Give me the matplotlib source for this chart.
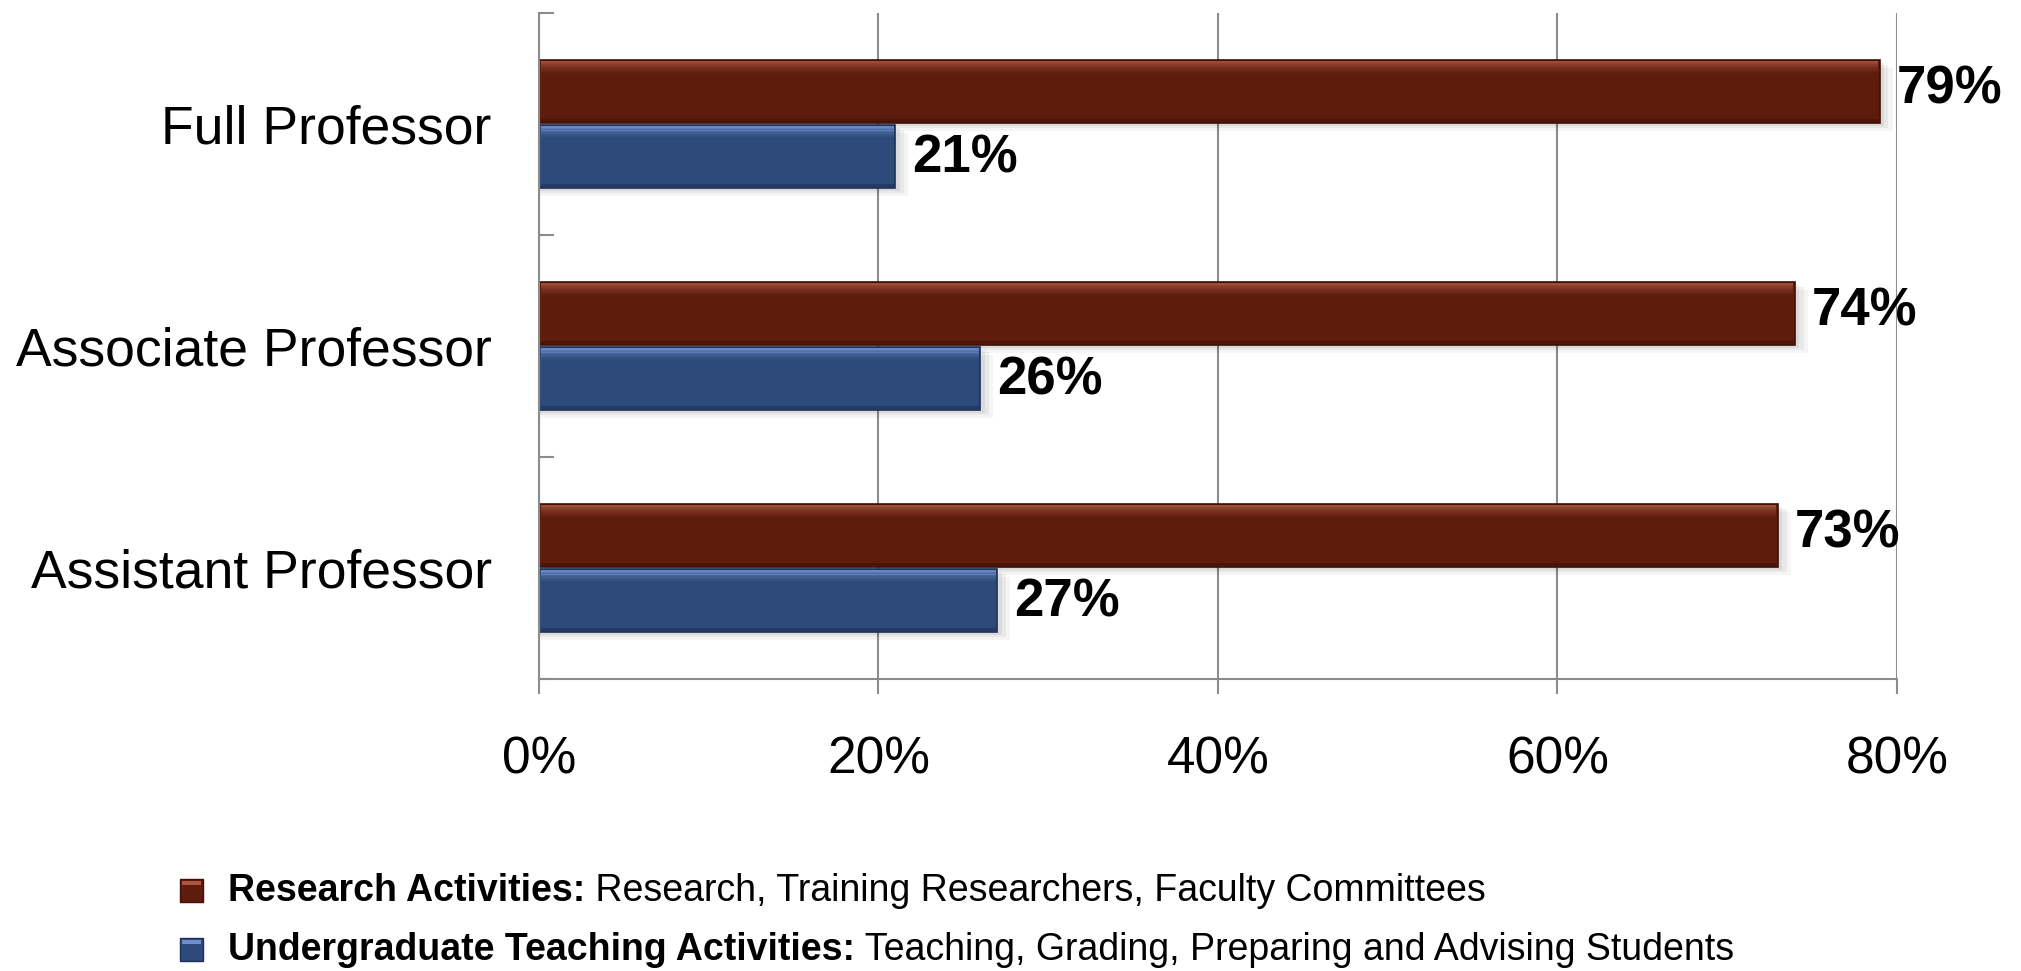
import matplotlib
matplotlib.use("Agg")
import matplotlib.pyplot as plt
from matplotlib.patches import Rectangle
import numpy as np

plt.rcParams["font.family"] = ["Liberation Sans", "DejaVu Sans"]

# data (bottom to top, as drawn)
categories = ["Assistant Professor", "Associate Professor", "Full Professor"]
research = [73, 74, 79]
teaching = [27, 26, 21]
x_ticks = [0, 20, 40, 60, 80]
x_tick_labels = ["0%", "20%", "40%", "60%", "80%"]

legend_bold = ["Research Activities:", "Undergraduate Teaching Activities:"]
legend_rest = [" Research, Training Researchers, Faculty Committees",
               " Teaching, Grading, Preparing and Advising Students"]

RED = "#5E1C0D"
RED_HI = "#A9553F"
RED_LO = "#3E1006"
BLUE = "#2E4A7B"
BLUE_HI = "#6E8ECB"
BLUE_LO = "#1D3156"
GRID = "#8C8C8C"

fig = plt.figure(figsize=(20.21, 9.71), dpi=100)
ax = fig.add_axes([0.2667, 0.3007, 0.6719, 0.6859])

y = np.arange(len(categories))
h = 0.284
off = 0.146


def bevel_bars(ypos, vals, main, hi, lo):
    vals = np.array(vals)
    # soft drop shadow
    for k, a in enumerate([0.06, 0.05, 0.04]):
        d = 0.012 * (k + 1)
        ax.barh(ypos - d, vals + 0.25 * (k + 1), height=h, left=0,
                color="black", alpha=a, zorder=2, linewidth=0)
    ax.barh(ypos, vals, height=h, color=main, edgecolor=lo, linewidth=1.2, zorder=3)
    # top highlight, fading downwards
    n = 8
    for i in range(n):
        a = 0.85 * (1 - i / n) ** 1.5
        ax.barh(ypos + h / 2 - 0.008 - i * 0.007, vals - 0.2, left=0.1, height=0.008,
                color=hi, linewidth=0, zorder=4, alpha=a)
    # bottom darker edge
    ax.barh(ypos - h / 2 + 0.01, vals - 0.2, left=0.1, height=0.014,
            color=lo, linewidth=0, zorder=4, alpha=0.6)


bevel_bars(y + off, research, RED, RED_HI, RED_LO)
bevel_bars(y - off, teaching, BLUE, BLUE_HI, BLUE_LO)

for yi, v in zip(y, research):
    ax.text(v + 1.0, yi + off + 0.01, f"{v}%", va="center", ha="left",
            fontsize=38, fontweight="bold", zorder=6)
for yi, v in zip(y, teaching):
    ax.text(v + 1.0, yi - off - 0.01, f"{v}%", va="center", ha="left",
            fontsize=38, fontweight="bold", zorder=6)

ax.set_xlim(0, 80)
ax.set_ylim(-0.5, 2.5)
ax.set_xticks(x_ticks)
ax.set_xticklabels(x_tick_labels, fontsize=37)
ax.set_yticks(y)
ax.set_yticklabels(categories, fontsize=38.5)
ax.set_yticks([-0.5, 0.5, 1.5, 2.5], minor=True)

ax.tick_params(axis="y", which="major", length=0, pad=34)
ax.tick_params(axis="y", which="minor", direction="in", length=11, width=1.5, color=GRID)
ax.tick_params(axis="x", which="major", direction="out", length=11, width=1.5,
               color=GRID, pad=30)

ax.grid(axis="x", color=GRID, linewidth=1.5, zorder=0)
ax.set_axisbelow(True)
for s in ["top", "right"]:
    ax.spines[s].set_visible(False)
for s in ["left", "bottom"]:
    ax.spines[s].set_color(GRID)
    ax.spines[s].set_linewidth(1.5)
    ax.spines[s].set_zorder(5)

# legend, drawn in figure coordinates
W, H = fig.get_size_inches() * fig.dpi
renderer = fig.canvas.get_renderer()
rows_y = [1 - 891 / H, 1 - 950 / H]
marks = [(RED, RED_HI, RED_LO), (BLUE, BLUE_HI, BLUE_LO)]
for ry, (c, hi, lo), b, r in zip(rows_y, marks, legend_bold, legend_rest):
    sq = 23
    x0, y0 = 180 / W, ry - (sq / 2) / H
    fig.patches.append(Rectangle((x0, y0), sq / W, sq / H, transform=fig.transFigure,
                                 facecolor=c, edgecolor=lo, linewidth=1))
    fig.patches.append(Rectangle((x0 + 2 / W, y0 + (sq - 6) / H), (sq - 4) / W, 4 / H,
                                 transform=fig.transFigure, facecolor=hi,
                                 linewidth=0))
    t = fig.text(228 / W, ry, b, fontsize=27, fontweight="bold", va="center", ha="left")
    bb = t.get_window_extent(renderer=renderer)
    fig.text(bb.x1 / W, ry, r, fontsize=27, va="center", ha="left")

fig.savefig("out.png", dpi=100)
